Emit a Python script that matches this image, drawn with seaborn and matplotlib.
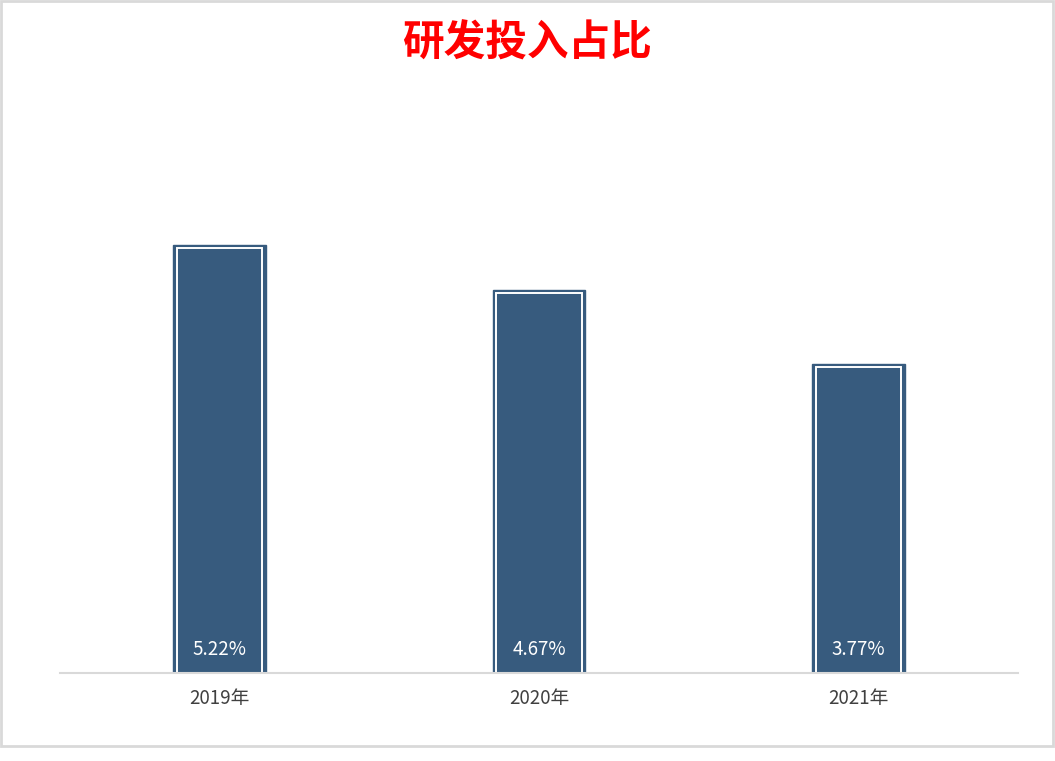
import matplotlib
matplotlib.use("Agg")
import matplotlib.pyplot as plt
import seaborn as sns
import pandas as pd
from matplotlib.patches import Rectangle

years = ["2019年", "2020年", "2021年"]
values = [5.22, 4.67, 3.77]
labels = ["5.22%", "4.67%", "3.77%"]
title = "研发投入占比"

sns.set_theme(style="white")
plt.rcParams['font.family'] = ['Noto Sans CJK SC', 'DejaVu Sans']

df = pd.DataFrame({"year": years, "value": values})
inset = 0.035
df_inner = pd.DataFrame({"year": years, "value": [v - inset for v in values]})

fig = plt.figure(figsize=(10.55, 7.61), dpi=100)
ax = fig.add_axes([60/1055, 88/761, 958/1055, 492/761])

dark = "#375B7E"
sns.barplot(data=df, x="year", y="value", width=0.29, color=dark,
            saturation=1, edgecolor=dark, linewidth=1.0, ax=ax)
sns.barplot(data=df_inner, x="year", y="value", width=0.268, fill=False,
            edgecolor="white", linewidth=1.4, ax=ax)

for i, lab in enumerate(labels):
    ax.text(i, 0.29, lab, ha="center", va="center", color="white", fontsize=13.5)

ax.set_xlim(-0.5, 2.5)
ax.set_ylim(0, 6)
ax.set_xlabel("")
ax.set_ylabel("")
ax.set_yticks([])
for s in ["top", "right", "left"]:
    ax.spines[s].set_visible(False)
ax.spines["bottom"].set_color("#D9D9D9")
ax.spines["bottom"].set_linewidth(1.5)
ax.spines["bottom"].set_zorder(5)
ax.tick_params(axis="x", length=0, pad=11, labelsize=13.5, labelcolor="#404040")
ax.patch.set_alpha(0)

fig.text(527/1055, 1 - 44/761, title, ha="center", va="center",
         color="#FF0000", fontsize=30, fontweight="bold")

fig.patches.append(Rectangle((0.5/1055, (761-746)/761), 1052.5/1055, 745.5/761,
                             transform=fig.transFigure, fill=False,
                             edgecolor="#D9D9D9", linewidth=2))

fig.savefig("out.png", dpi=100, facecolor="white")
